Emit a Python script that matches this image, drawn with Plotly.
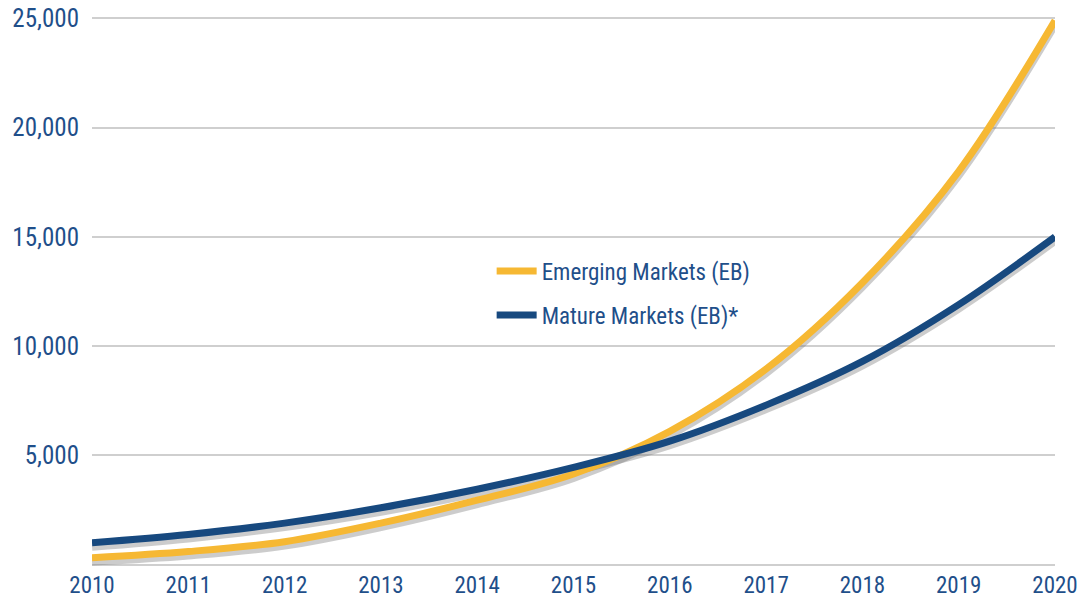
import plotly.graph_objects as go

years = [2010, 2011, 2012, 2013, 2014, 2015, 2016, 2017, 2018, 2019, 2020]
emerging = [320, 600, 1050, 1900, 2950, 4150, 6100, 8950, 12900, 18000, 24900]
mature = [1000, 1380, 1900, 2600, 3450, 4450, 5650, 7300, 9300, 11900, 15000]

y_ticks = [0, 5000, 10000, 15000, 20000, 25000]
y_labels = ["", "5,000", "10,000", "15,000", "20,000", "25,000"]

names = ["Emerging Markets (EB)", "Mature Markets (EB)*"]
colors = ["#F6B833", "#17497F"]
text_color = "#1F4F8A"
font_family = "Liberation Sans Narrow, Roboto Condensed, Roboto, sans-serif"

fig = go.Figure()

# soft drop shadow under each line
for series in [emerging, mature]:
    fig.add_trace(go.Scatter(
        x=years, y=[v - 180 for v in series], mode="lines",
        line=dict(color="rgba(110,110,110,0.35)", width=8, shape="spline", smoothing=1.0),
        hoverinfo="skip", showlegend=False, cliponaxis=False))

for i, (name, series, color) in enumerate(zip(names, [emerging, mature], colors)):
    fig.add_trace(go.Scatter(
        x=years, y=series, mode="lines", name=name, legendgroup=f"g{i}",
        line=dict(color=color, width=7, shape="spline", smoothing=1.0),
        cliponaxis=False))

fig.update_layout(
    width=1081, height=604,
    margin=dict(l=92, r=26, t=14, b=35, autoexpand=False),
    paper_bgcolor="white", plot_bgcolor="white",
    font=dict(family=font_family, color=text_color, size=21),
    legend=dict(x=0.415, y=0.497, xanchor="left", yanchor="middle",
                bgcolor="rgba(0,0,0,0)", font=dict(size=23, color=text_color),
                itemwidth=40, tracegroupgap=11),
    showlegend=True,
)
fig.update_xaxes(range=[2010, 2020], tickvals=years, showgrid=False, zeroline=False,
                 showline=False, ticks="", automargin=False, ticklabeloverflow="allow",
                 tickfont=dict(size=23, color=text_color))
fig.update_yaxes(range=[-200, 25200], tickvals=y_ticks, ticktext=y_labels, showgrid=True,
                 gridcolor="#CFCFCF", gridwidth=2, zeroline=False, showline=False,
                 ticks="", ticklabelstandoff=12, automargin=False, ticklabeloverflow="allow",
                 tickfont=dict(size=25, color=text_color))

# drop the default 8px body margin so the figure sits flush with the window
fig.write_html("out.html", config={"displayModeBar": False},
               post_script="document.body.style.margin='0';")
